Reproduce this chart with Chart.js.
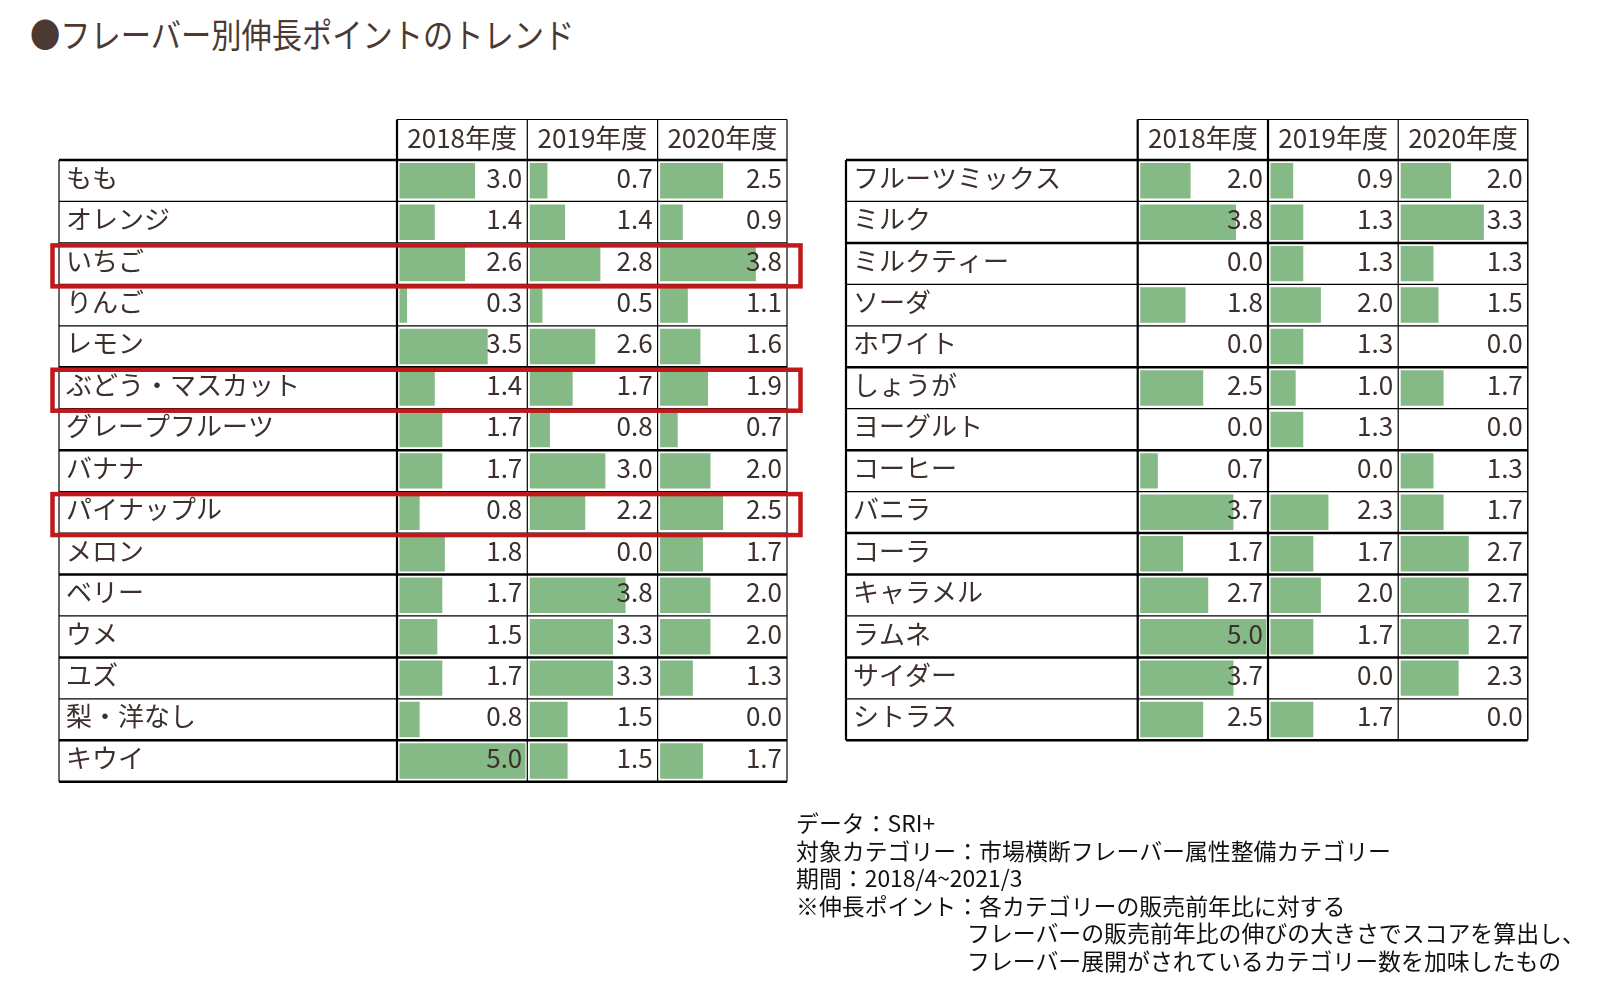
<!DOCTYPE html>
<html lang="ja">
<head>
<meta charset="utf-8">
<title>フレーバー別伸長ポイントのトレンド</title>
<script src="https://cdn.jsdelivr.net/npm/chart.js@4.4.0/dist/chart.umd.min.js"></script>
<style>
  body { margin: 0; width: 1611px; height: 994px; background: #fff; position: relative; overflow: hidden;
         font-family: "Noto Sans CJK JP", "Noto Sans", sans-serif; }
  #title { position: absolute; left: 30px; top: 12px; font-size: 34px; line-height: 44px; color: #4b3932; white-space: nowrap;
           transform: scaleX(0.89); transform-origin: left center; }
  canvas.tbl { position: absolute; left: 0; top: 0; }
  #note { position: absolute; left: 796px; top: 809px; font-size: 22.9px; line-height: 27.5px; color: #111; white-space: nowrap; }
  #note .ind { padding-left: 171px; }
</style>
</head>
<body>
<div id="title">●フレーバー別伸長ポイントのトレンド</div>
<canvas id="leftTable" class="tbl" width="1611" height="994"></canvas>
<canvas id="rightTable" class="tbl" width="1611" height="994"></canvas>
<div id="note">
  <div>データ：SRI+</div>
  <div>対象カテゴリー：市場横断フレーバー属性整備カテゴリー</div>
  <div>期間：2018/4~2021/3</div>
  <div>※伸長ポイント：各カテゴリーの販売前年比に対する</div>
  <div class="ind">フレーバーの販売前年比の伸びの大きさでスコアを算出し、</div>
  <div class="ind">フレーバー展開がされているカテゴリー数を加味したもの</div>
</div>
<script>
// データ
const years = ['2018年度', '2019年度', '2020年度'];

const leftFlavors = ['もも', 'オレンジ', 'いちご', 'りんご', 'レモン', 'ぶどう・マスカット', 'グレープフルーツ',
  'バナナ', 'パイナップル', 'メロン', 'ベリー', 'ウメ', 'ユズ', '梨・洋なし', 'キウイ'];
const left2018 = [3.0, 1.4, 2.6, 0.3, 3.5, 1.4, 1.7, 1.7, 0.8, 1.8, 1.7, 1.5, 1.7, 0.8, 5.0];
const left2019 = [0.7, 1.4, 2.8, 0.5, 2.6, 1.7, 0.8, 3.0, 2.2, 0.0, 3.8, 3.3, 3.3, 1.5, 1.5];
const left2020 = [2.5, 0.9, 3.8, 1.1, 1.6, 1.9, 0.7, 2.0, 2.5, 1.7, 2.0, 2.0, 1.3, 0.0, 1.7];
const leftHighlight = ['いちご', 'ぶどう・マスカット', 'パイナップル'];

const rightFlavors = ['フルーツミックス', 'ミルク', 'ミルクティー', 'ソーダ', 'ホワイト', 'しょうが', 'ヨーグルト',
  'コーヒー', 'バニラ', 'コーラ', 'キャラメル', 'ラムネ', 'サイダー', 'シトラス'];
const right2018 = [2.0, 3.8, 0.0, 1.8, 0.0, 2.5, 0.0, 0.7, 3.7, 1.7, 2.7, 5.0, 3.7, 2.5];
const right2019 = [0.9, 1.3, 1.3, 2.0, 1.3, 1.0, 1.3, 0.0, 2.3, 1.7, 2.0, 1.7, 0.0, 1.7];
const right2020 = [2.0, 3.3, 1.3, 1.5, 0.0, 1.7, 0.0, 1.3, 1.7, 2.7, 2.7, 2.7, 2.3, 0.0];

// 見た目
const BAR = '#85b985';
const INK = '#3d302c';
const RED = '#c0191b';
const FONT = '"Noto Sans CJK JP", sans-serif';
const PX_PER_UNIT = 25.2;
const T = 2.5, t = 1.2; // 罫線の太さ

const leftLayout = {
  labelX: 59, colX: [397, 527.3, 657.6, 787], headTop: 119.5, bodyTop: 160, rowH: 41.45,
  hLines: [T, t, t, t, t, T, t, T, t, t, T, t, T, t, T, T],
  vLines: [t, 2.2, t, t, t],
  box: { left: 52.5, right: 800.5 }
};
const rightLayout = {
  labelX: 846, colX: [1137.7, 1268, 1398.2, 1527.8], headTop: 119.5, bodyTop: 160, rowH: 41.45,
  hLines: [T, t, T, t, t, T, t, T, t, T, T, t, T, t, T],
  vLines: [2.2, 2.2, 2.2, t, 1.5]
};

const tablePlugin = {
  id: 'tableGrid',
  afterDatasetsDraw(chart, args, opts) {
    const L = opts.layout, ctx = chart.ctx;
    const yS = chart.scales.y;
    const n = chart.data.labels.length;
    const half = (yS.getPixelForValue(1) - yS.getPixelForValue(0)) / 2;
    const bounds = [];
    for (let i = 0; i < n; i++) bounds.push(yS.getPixelForValue(i) - half);
    bounds.push(yS.getPixelForValue(n - 1) + half);
    const right = L.colX[3];
    ctx.save();
    ctx.strokeStyle = '#000';
    // 横線
    bounds.forEach((y, i) => {
      ctx.lineWidth = L.hLines[i];
      ctx.beginPath(); ctx.moveTo(L.labelX, y); ctx.lineTo(right, y); ctx.stroke();
    });
    ctx.lineWidth = t;
    ctx.beginPath(); ctx.moveTo(L.colX[0], L.headTop); ctx.lineTo(right, L.headTop); ctx.stroke();
    // 縦線
    const xs = [L.labelX].concat(L.colX);
    xs.forEach((x, i) => {
      ctx.lineWidth = L.vLines[i];
      ctx.beginPath(); ctx.moveTo(x, i === 0 ? bounds[0] : L.headTop); ctx.lineTo(x, bounds[n]); ctx.stroke();
    });
    // 見出し
    ctx.fillStyle = INK;
    ctx.font = '26px ' + FONT;
    ctx.textBaseline = 'middle';
    ctx.textAlign = 'center';
    years.forEach((yr, k) => {
      ctx.fillText(yr, (L.colX[k] + L.colX[k + 1]) / 2, (L.headTop + bounds[0]) / 2 - 2);
    });
    // フレーバー名
    ctx.textAlign = 'left';
    chart.data.labels.forEach((lab, i) => {
      ctx.fillText(lab, L.labelX + 7, yS.getPixelForValue(i) - 3);
    });
    // 値
    ctx.textAlign = 'right';
    chart.data.datasets.forEach((ds, k) => {
      const meta = chart.getDatasetMeta(k);
      meta.data.forEach((bar, i) => {
        ctx.fillText(ds.data[i].toFixed(1), L.colX[k + 1] - 5, bar.y - 3);
      });
    });
    // 強調枠
    if (opts.highlight) {
      ctx.strokeStyle = RED;
      ctx.lineWidth = 4.5;
      opts.highlight.forEach(name => {
        const i = chart.data.labels.indexOf(name);
        if (i < 0) return;
        const top = bounds[i] + 2.5, bottom = bounds[i + 1] + 2;
        ctx.strokeRect(L.box.left, top, L.box.right - L.box.left, bottom - top);
      });
    }
    ctx.restore();
  }
};

function makeTable(canvasId, labels, series, layout, highlight) {
  const canvas = document.getElementById(canvasId);
  const W = layout.colX[3] - layout.colX[0];
  const n = labels.length;
  const scales = {
    y: { type: 'category', display: false, offset: true }
  };
  series.forEach((s, k) => {
    const min = -(layout.colX[k] - layout.colX[0] + 2.5) / PX_PER_UNIT;
    scales['x' + k] = { type: 'linear', display: false, min: min, max: min + W / PX_PER_UNIT };
  });
  new Chart(canvas, {
    type: 'bar',
    data: {
      labels: labels,
      datasets: series.map((s, k) => ({
        label: years[k],
        data: s,
        xAxisID: 'x' + k,
        backgroundColor: BAR,
        borderWidth: 0,
        grouped: false,
        barPercentage: 0.855,
        categoryPercentage: 1
      }))
    },
    options: {
      indexAxis: 'y',
      responsive: false,
      animation: false,
      events: [],
      layout: {
        padding: {
          left: layout.colX[0],
          right: canvas.width - layout.colX[3],
          top: layout.bodyTop,
          bottom: canvas.height - (layout.bodyTop + n * layout.rowH)
        }
      },
      scales: scales,
      plugins: {
        legend: { display: false },
        tooltip: { enabled: false },
        tableGrid: { layout: layout, highlight: highlight }
      }
    },
    plugins: [tablePlugin]
  });
}

makeTable('leftTable', leftFlavors, [left2018, left2019, left2020], leftLayout, leftHighlight);
makeTable('rightTable', rightFlavors, [right2018, right2019, right2020], rightLayout, null);
</script>
</body>
</html>
